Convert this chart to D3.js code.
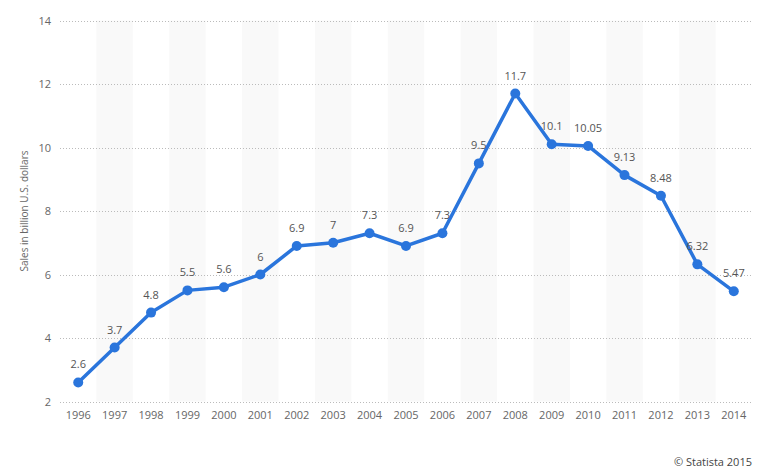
<!DOCTYPE html>
<html><head><meta charset="utf-8">
<script src="https://cdn.jsdelivr.net/npm/d3@7"></script>
<style>
body{margin:0;background:#fff;}
text{font-family:"Open Sans","DejaVu Sans",sans-serif;}
</style></head>
<body><svg id="c" width="765" height="472"></svg>
<script>
const years = ["1996","1997","1998","1999","2000","2001","2002","2003","2004","2005","2006","2007","2008","2009","2010","2011","2012","2013","2014"];
const sales = [2.6,3.7,4.8,5.5,5.6,6,6.9,7,7.3,6.9,7.3,9.5,11.7,10.1,10.05,9.13,8.48,6.32,5.47];
const valueLabels = ["2.6","3.7","4.8","5.5","5.6","6","6.9","7","7.3","6.9","7.3","9.5","11.7","10.1","10.05","9.13","8.48","6.32","5.47"];
const yTicks = [2,4,6,8,10,12,14];
const yTitle = "Sales in billion U.S. dollars";
const credit = "© Statista 2015";

const svg = d3.select("#c");
const pL = 60, pR = 752, pT = 20.5, pB = 401.5;
const x = d3.scaleBand().domain(years).range([pL, pR]).padding(0);
const y = d3.scaleLinear().domain([2, 14]).range([pB, pT]);

// alternating bands
svg.append("g").selectAll("rect").data(years.filter((d,i)=>i%2===1)).join("rect")
  .attr("x", d=>x(d)).attr("y", pT).attr("width", x.bandwidth()).attr("height", pB-pT)
  .attr("fill", "#f9f9f9");

// grid
svg.append("g").selectAll("line").data(yTicks).join("line")
  .attr("x1", pL).attr("x2", pR)
  .attr("y1", d=>Math.round(y(d))+0.5).attr("y2", d=>Math.round(y(d))+0.5)
  .attr("stroke", "#bbb").attr("stroke-width", 1).attr("stroke-dasharray", "1,2");

// y axis labels
const yAxis = d3.axisLeft(y).tickValues(yTicks).tickSize(0).tickPadding(9);
const gy = svg.append("g").attr("transform", `translate(${pL},0)`).call(yAxis);
gy.select(".domain").remove();
gy.selectAll("text").attr("fill", "#666").style("font-size", "11px").style("font-family", "'Open Sans',sans-serif");

// x axis labels
const xAxis = d3.axisBottom(x).tickSize(0).tickPadding(10);
const gx = svg.append("g").attr("transform", `translate(0,${pB})`).call(xAxis);
gx.select(".domain").remove();
gx.selectAll("text").attr("fill", "#666").style("font-size", "11px").style("font-family", "'Open Sans',sans-serif");

// y title
svg.append("text").attr("transform", "translate(28,211) rotate(-90)")
  .attr("text-anchor", "middle").attr("fill", "#666").style("font-size", "10px").text(yTitle);

const cx = d => x(d) + x.bandwidth()/2;
const line = d3.line().x((d,i)=>cx(years[i])).y(d=>y(d));
svg.append("path").datum(sales).attr("d", line).attr("fill", "none")
  .attr("stroke", "#2a75dc").attr("stroke-width", 3.5).attr("stroke-linejoin", "round");
svg.append("g").selectAll("circle").data(sales).join("circle")
  .attr("cx", (d,i)=>cx(years[i])).attr("cy", d=>y(d)).attr("r", 5).attr("fill", "#2a75dc");

svg.append("g").selectAll("text").data(sales).join("text")
  .attr("x", (d,i)=>cx(years[i])).attr("y", d=>y(d)-14)
  .attr("text-anchor", "middle").attr("fill", "#555").style("font-size", "11px")
  .text((d,i)=>valueLabels[i]);

svg.append("text").attr("x", 752).attr("y", 466).attr("text-anchor", "end")
  .attr("fill", "#444").style("font-size", "11px").text(credit);
</script></body></html>
